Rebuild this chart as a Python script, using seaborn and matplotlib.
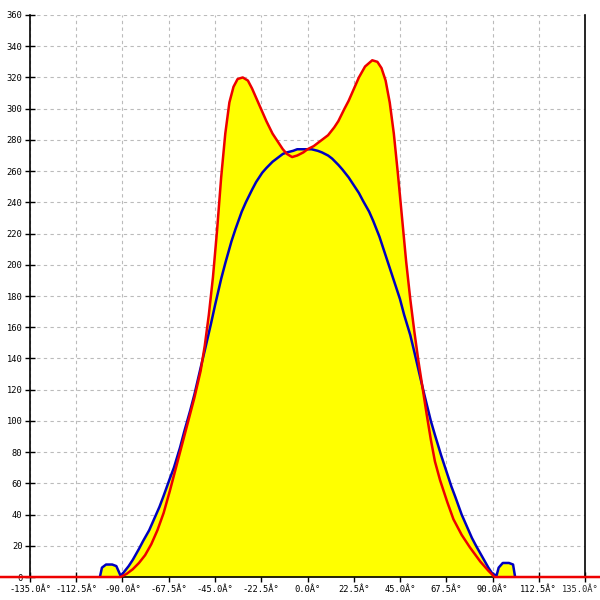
import numpy as np
import pandas as pd
import seaborn as sns
import matplotlib
matplotlib.use("Agg")
import matplotlib.pyplot as plt

sns.set_theme(style="ticks")
plt.rcParams['font.family'] = ['DejaVu Sans Mono', 'DejaVu Sans']

# blue series (angle in degrees, value)
blue_x = [-101, -100, -98, -95, -93, -92, -91, -90, -87, -85, -82, -80, -77, -75, -72,
          -70, -67, -65, -62, -60, -57, -55, -52, -50, -47, -45, -42, -40, -37, -35,
          -32, -30, -27, -25, -22, -20, -17, -15, -12, -10, -7, -5, -2, 0, 2, 5, 7,
          10, 12, 15, 17, 20, 22, 25, 27, 30, 32, 35, 37, 40, 42, 45, 47, 50, 52,
          55, 57, 60, 62, 65, 67, 70, 72, 75, 77, 80, 82, 85, 88, 90, 92, 93,
          95, 98, 100, 101]
blue_y = [0, 6, 8, 8, 7, 4, 1, 2, 7, 11, 18, 23, 30, 36, 45,
          52, 63, 70, 83, 93, 107, 117, 134, 145, 162, 174, 191, 201, 215, 223,
          234, 240, 248, 253, 259, 262, 266, 268, 271, 272, 273, 274, 274, 274, 274, 273, 272,
          270, 268, 264, 261, 256, 252, 246, 241, 234, 228, 218, 210, 198, 190, 178, 168, 155, 144,
          127, 116, 100, 91, 78, 70, 58, 51, 40, 34, 25, 20, 13, 6, 2, 1, 6,
          9, 9, 8, 0]

# red series, zero outside the lobe
red_x = [-180, -95, -91, -88, -85, -82, -79, -76, -73, -70, -67, -64, -61, -58, -55,
         -52, -50, -48, -46, -44, -42, -40, -38, -36, -34, -31.5, -29, -27, -25,
         -22, -20, -17, -15, -12, -10, -7.5, -5, -2, 0, 3, 5, 8, 10, 13, 15, 18, 20,
         23, 25, 28, 31.5, 34, 36, 38, 40, 42, 44, 46, 48, 50, 52, 54, 56, 58, 60,
         62, 64.5, 68, 71, 75, 79, 84, 88, 91, 95, 180]
red_y = [0, 0, 0, 2, 5, 9, 14, 21, 30, 41, 55, 70, 85, 100, 115,
         132, 148, 168, 192, 222, 256, 284, 304, 314, 319, 320, 318, 313, 307,
         298, 292, 284, 280, 274, 271, 269, 270, 272, 274, 276, 278, 281, 283, 288, 292, 300, 305,
         314, 320, 327, 331, 330, 326, 318, 304, 284, 258, 230, 202, 178, 157, 138, 121, 104, 88,
         74, 62, 48, 37, 27, 19, 10, 4, 0, 0, 0]

x_ticks = [-135 + 22.5 * i for i in range(13)]
x_labels = [f"{v:.1f}Â°" for v in x_ticks]
y_ticks = list(range(0, 361, 20))

blue = pd.DataFrame({"angle": blue_x, "value": blue_y})
red = pd.DataFrame({"angle": red_x, "value": red_y})

fig = plt.figure(figsize=(6, 6), dpi=100)
ax = fig.add_axes([0.05, 0.0383, 0.925, 0.9367])

ax.fill_between(blue.angle, blue.value, 0, color="#FFFF00", lw=0, zorder=1)
ax.fill_between(red.angle, red.value, 0, color="#FFFF00", lw=0, zorder=1)

sns.lineplot(data=blue, x="angle", y="value", color="#0000C0", lw=1.8, ax=ax, zorder=3)
sns.lineplot(data=red, x="angle", y="value", color="#EE0000", lw=1.8, ax=ax,
             zorder=4, clip_on=False)

ax.set_xlim(-135, 135)
ax.set_ylim(0, 360)
ax.set_xticks(x_ticks)
# the last label sits against the right border, so it is placed by hand below
ax.set_xticklabels(x_labels[:-1] + [""])
ax.set_yticks(y_ticks)
ax.set_xlabel("")
ax.set_ylabel("")
ax.grid(True, color="#BBBBBB", linestyle=(0, (3, 3)), linewidth=0.8, zorder=0)
ax.set_axisbelow(True)
ax.tick_params(axis="both", direction="inout", length=7, width=1, labelsize=6.3,
               colors="black", pad=2)
for s in ["left", "right", "bottom"]:
    ax.spines[s].set_color("black")
    ax.spines[s].set_linewidth(1.2)
ax.spines["top"].set_visible(False)

fig.text(0.997, 0.0383 - 7.6 / 600, x_labels[-1], ha="right", va="top", fontsize=6.3)

fig.savefig("out.png", dpi=100)
